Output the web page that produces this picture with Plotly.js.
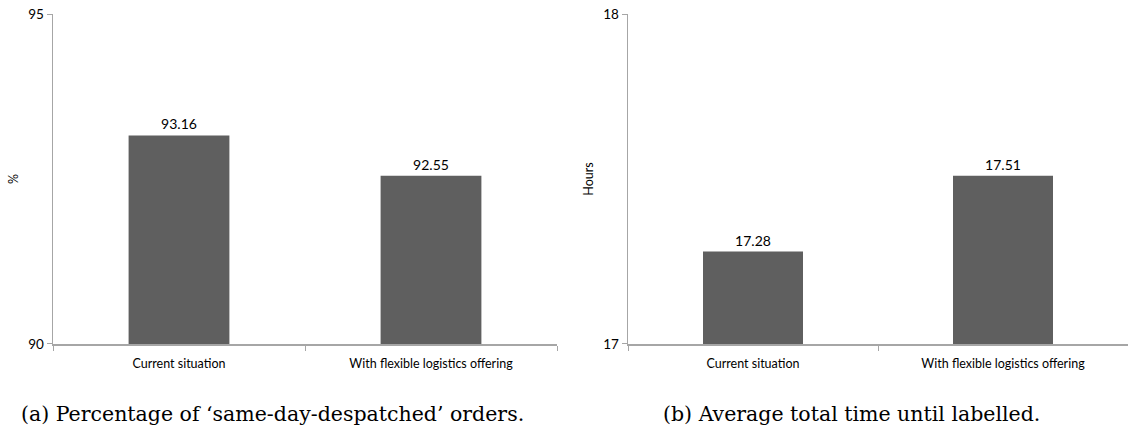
<!DOCTYPE html>
<html>
<head>
<meta charset="utf-8">
<script src="https://cdn.plot.ly/plotly-3.0.1.min.js"></script>
<style>html,body{margin:0;padding:0;background:#fff;}#chart{width:1128px;height:430px;}</style>
</head>
<body>
<div id="chart"></div>
<script>
const categories = ["Current situation", "With flexible logistics offering"];
const pctValues = [93.16, 92.55];
const hoursValues = [17.28, 17.51];
const pctTicks = [90, 95];
const hoursTicks = [17, 18];
const captions = ["(a) Percentage of \u2018same-day-despatched\u2019 orders.", "(b) Average total time until labelled."];

const barColor = "#5f5f5f";
const labelFont = {family: "Lato, 'Open Sans', sans-serif", size: 14, color: "#000"};

const traces = [
  {type: "bar", x: categories, y: pctValues, xaxis: "x", yaxis: "y",
   marker: {color: barColor}, width: 0.4,
   text: pctValues.map(v => v.toFixed(2)), textposition: "outside",
   textfont: labelFont, cliponaxis: false, hoverinfo: "none"},
  {type: "bar", x: categories, y: hoursValues, xaxis: "x2", yaxis: "y2",
   marker: {color: barColor}, width: 0.4,
   text: hoursValues.map(v => v.toFixed(2)), textposition: "outside",
   textfont: labelFont, cliponaxis: false, hoverinfo: "none"}
];

const axisLine = "#a6a6a6";
const tickFont = {family: "Lato, 'Open Sans', sans-serif", size: 13.5, color: "#000"};
function xAx(domain, anchor) {
  return {domain: domain, anchor: anchor, type: "category", showline: true, linecolor: axisLine, linewidth: 1.5,
    ticks: "outside", tickson: "boundaries", ticklen: 5, tickcolor: axisLine, tickwidth: 1,
    ticklabelstandoff: 7,
    showgrid: false, zeroline: false, tickfont: {family: "Lato, 'Open Sans', sans-serif", size: 12.5, color: "#000"}, fixedrange: true};
}
function yAx(range, ticks, title, anchor) {
  return {domain: [0.2, 0.9674], anchor: anchor, range: range, tickvals: ticks, ticktext: ticks.map(String),
    showline: true, linecolor: axisLine, linewidth: 1.5, ticks: "outside", ticklen: 5, tickcolor: axisLine,
    showgrid: false, zeroline: false, tickfont: tickFont,
    title: {text: title, font: {family: "Lato, 'Open Sans', sans-serif", size: 12.5, color: "#000"}, standoff: 6}, fixedrange: true};
}

const layout = {
  width: 1128, height: 430,
  margin: {l: 0, r: 0, t: 0, b: 0},
  paper_bgcolor: "#fff", plot_bgcolor: "#fff",
  showlegend: false, bargap: 0.6,
  xaxis: xAx([53/1128, 557/1128], "y"),
  yaxis: yAx([90, 95], pctTicks, "%", "x"),
  xaxis2: xAx([628/1128, 1], "y2"),
  yaxis2: yAx([17, 18], hoursTicks, "Hours", "x2"),
  annotations: [
    {text: captions[0], xref: "paper", yref: "paper", x: 272/1128, y: (430-414)/430, xanchor: "center", yanchor: "middle",
     showarrow: false, font: {family: "'DejaVu Serif', 'Liberation Serif', serif", size: 20.5, color: "#000"}},
    {text: captions[1], xref: "paper", yref: "paper", x: 851/1128, y: (430-414)/430, xanchor: "center", yanchor: "middle",
     showarrow: false, font: {family: "'DejaVu Serif', 'Liberation Serif', serif", size: 20.5, color: "#000"}}
  ]
};

Plotly.newPlot("chart", traces, layout, {displayModeBar: false, staticPlot: true});
</script>
</body>
</html>
